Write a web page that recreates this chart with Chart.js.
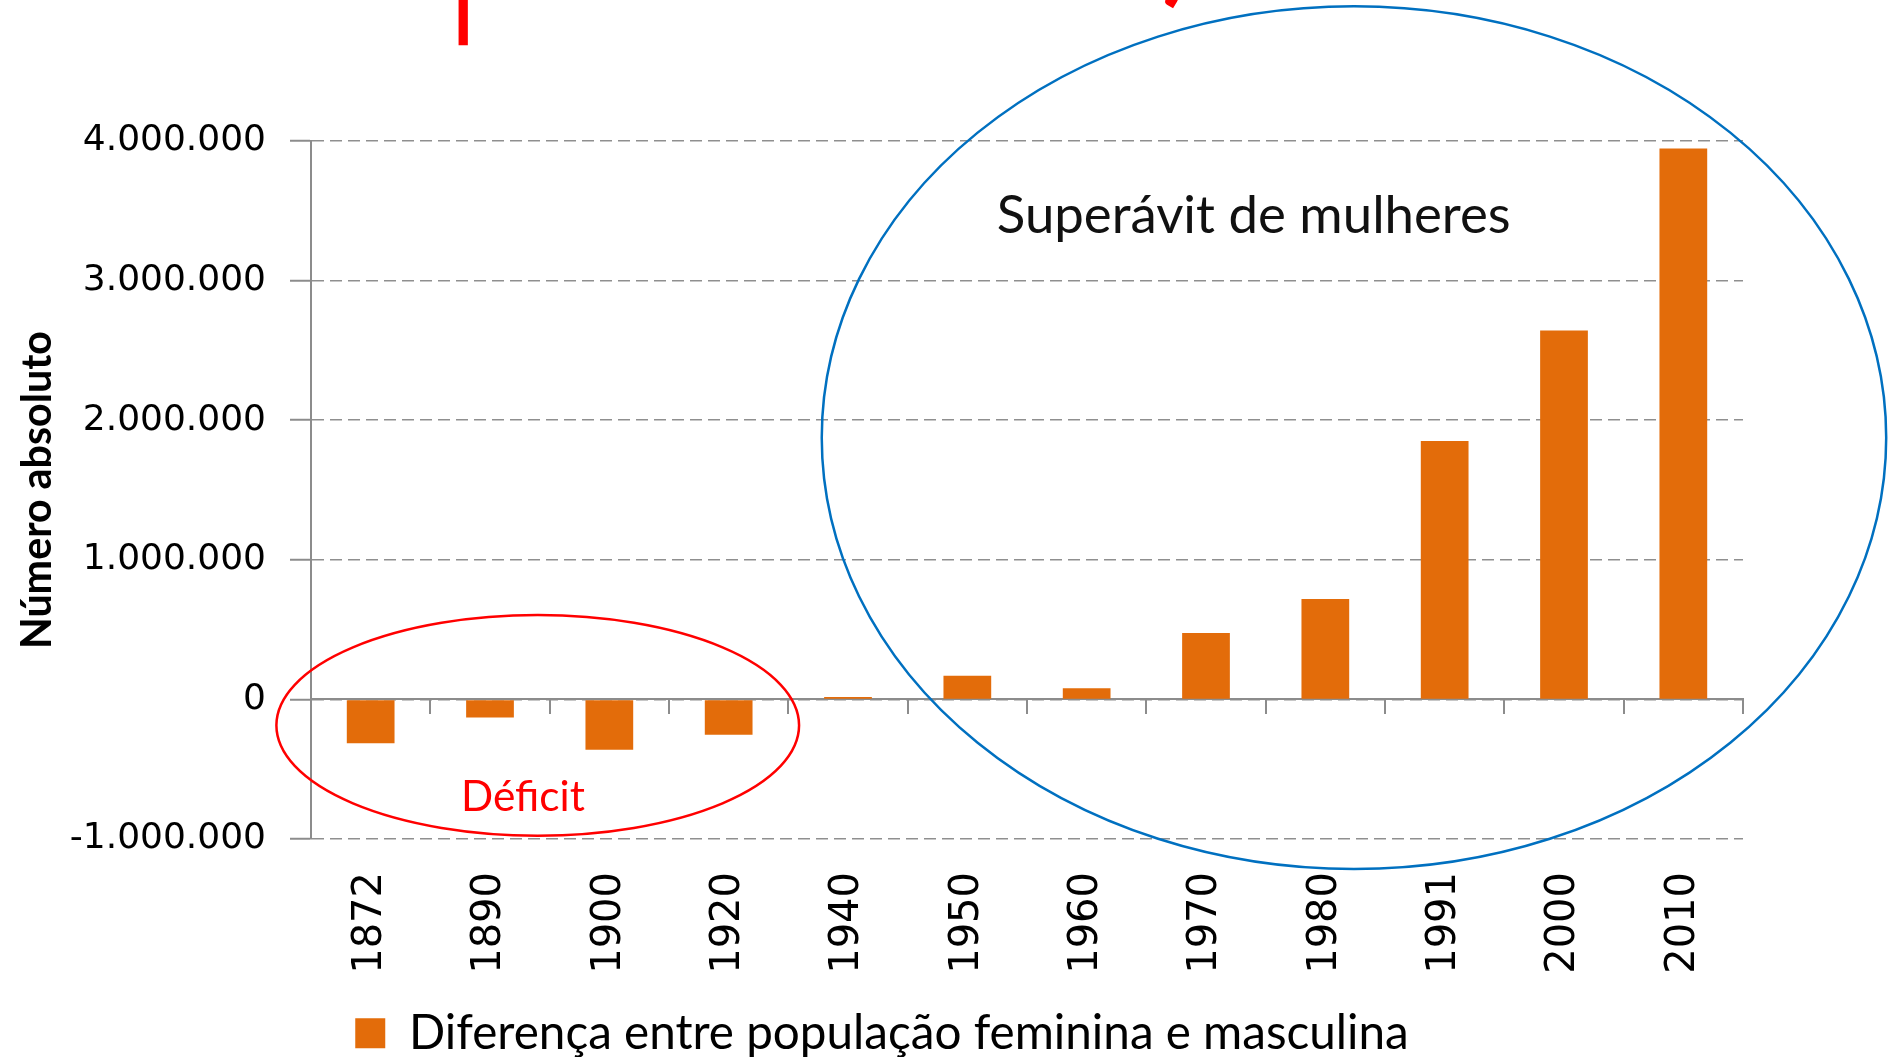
<!DOCTYPE html>
<html><head><meta charset="utf-8">
<script src="https://cdn.jsdelivr.net/npm/chart.js@4"></script>
<style>html,body{margin:0;padding:0;background:#fff;overflow:hidden}</style>
</head><body>
<canvas id="c" width="1888" height="1057"></canvas>
<script>
// ---- data ----
const categories = ['1872','1890','1900','1920','1940','1950','1960','1970','1980','1991','2000','2010'];
const differenceValues = [-314000, -130000, -360000, -254000, 17000, 170000, 79000, 476000, 720000, 1851000, 2643000, 3947000];
const yTickValues = [-1000000, 0, 1000000, 2000000, 3000000, 4000000];
const seriesLabel = 'Diferença entre população feminina e masculina';
const yAxisTitle = 'Número absoluto';
const surplusLabel = 'Superávit de mulheres';
const deficitLabel = 'Déficit';

// ---- helpers ----
function fmt(v){ const s = String(Math.abs(v)).replace(/\B(?=(\d{3})+(?!\d))/g, '.'); return (v<0?'-':'') + s; }
function fitSize(text, weight, family, width){
  const c = document.createElement('canvas').getContext('2d');
  c.font = weight + ' 100px ' + family;
  return 100 * width / c.measureText(text).width;
}
const legendSize = fitSize(seriesLabel, 'normal', 'Lato', 1000);
const titleSize = fitSize(yAxisTitle, 'bold', 'Lato', 318);
const surplusSize = fitSize(surplusLabel, 'normal', 'Lato', 514);
const deficitSize = fitSize(deficitLabel, 'normal', 'Lato', 124);
const legendPad = 3;
const legendHeight = Math.max(30, legendSize) + 2*legendPad;

const annotate = {
  id: 'annotate',
  afterDraw(chart){
    const {ctx, scales:{x, y}} = chart;
    const band = x.getPixelForValue(1) - x.getPixelForValue(0);
    const unit = y.getPixelForValue(0) - y.getPixelForValue(1000000);
    ctx.save();
    // deficit ellipse
    ctx.strokeStyle = '#FF0000'; ctx.lineWidth = 2.5;
    ctx.beginPath();
    ctx.ellipse(x.getPixelForValue(1.4), y.getPixelForValue(-186000), band*2.19, unit*0.79, 0, 0, Math.PI*2);
    ctx.stroke();
    // surplus ellipse
    ctx.strokeStyle = '#0070C0'; ctx.lineWidth = 2.5;
    ctx.beginPath();
    ctx.ellipse(x.getPixelForValue(8.24), y.getPixelForValue(1875000), band*4.46, unit*3.09, 0, 0, Math.PI*2);
    ctx.stroke();
    // labels
    ctx.textAlign = 'center'; ctx.textBaseline = 'alphabetic';
    ctx.fillStyle = '#111';
    ctx.font = surplusSize + 'px Lato';
    ctx.fillText(surplusLabel, x.getPixelForValue(7.4), y.getPixelForValue(3343000));
    ctx.fillStyle = '#FF0000';
    ctx.font = deficitSize + 'px Lato';
    ctx.fillText(deficitLabel, x.getPixelForValue(1.276), y.getPixelForValue(-800000));
    // cut-off red title remnants at the very top
    ctx.textAlign = 'left';
    ctx.save();
    ctx.translate(454, 0);
    ctx.scale(0.25, 1);
    ctx.font = 'bold 300px Lato';
    ctx.fillText('p', 0, -5);
    ctx.restore();
    ctx.font = 'bold 110px Lato';
    ctx.fillText(')', 1162, -9);
    ctx.restore();
  }
};

new Chart(document.getElementById('c'), {
  type: 'bar',
  data: {
    labels: categories,
    datasets: [{
      label: seriesLabel,
      data: differenceValues,
      backgroundColor: '#E36C0A',
      borderWidth: 0,
      barPercentage: 0.40,
      categoryPercentage: 1.0
    }]
  },
  options: {
    responsive: false,
    animation: false,
    devicePixelRatio: 1,
    layout: { padding: { top: 141, left: 21, right: 145, bottom: -10 } },
    plugins: {
      legend: {
        position: 'bottom',
        labels: {
          boxWidth: 30, boxHeight: 30, padding: legendPad,
          color: '#000',
          font: { family: 'Lato', size: legendSize }
        }
      },
      tooltip: { enabled: false }
    },
    scales: {
      x: {
        position: 'bottom',
        border: { display: false },
        grid: { display: false, drawTicks: false },
        ticks: {
          color: '#000', padding: 33, autoSkip: false, maxRotation: 90, minRotation: 90,
          font: { family: 'DejaVu Sans', size: 40 }
        },
        afterFit: s => { s.height = 1057 - 838 - legendHeight + 2; }
      },
      x2: {
        type: 'category',
        position: { y: 0 },
        offset: true,
        border: { display: true, color: '#8c8c8c', width: 2 },
        grid: { offset: true, drawOnChartArea: false, drawTicks: true, tickLength: 14, color: '#8c8c8c', lineWidth: 2 },
        ticks: { display: false }
      },
      y: {
        min: -1000000, max: 4000000,
        afterBuildTicks: s => { s.ticks = yTickValues.map(v => ({ value: v })); },
        border: { display: true, color: '#8c8c8c', width: 2, dash: [12, 6] },
        grid: { color: '#8f8f8f', lineWidth: 1.5, tickLength: 21, tickColor: '#8c8c8c', tickWidth: 2, tickBorderDash: [] },
        ticks: {
          color: '#000', padding: 24,
          font: { family: 'DejaVu Sans', size: 36 },
          callback: v => fmt(v)
        },
        title: {
          display: true, text: yAxisTitle, color: '#000',
          font: { family: 'Lato', weight: 'bold', size: titleSize },
          padding: { top: -8, bottom: 0 }
        },
        afterFit: s => { s.width = 290; }
      }
    }
  },
  plugins: [annotate]
});
</script>
</body></html>
